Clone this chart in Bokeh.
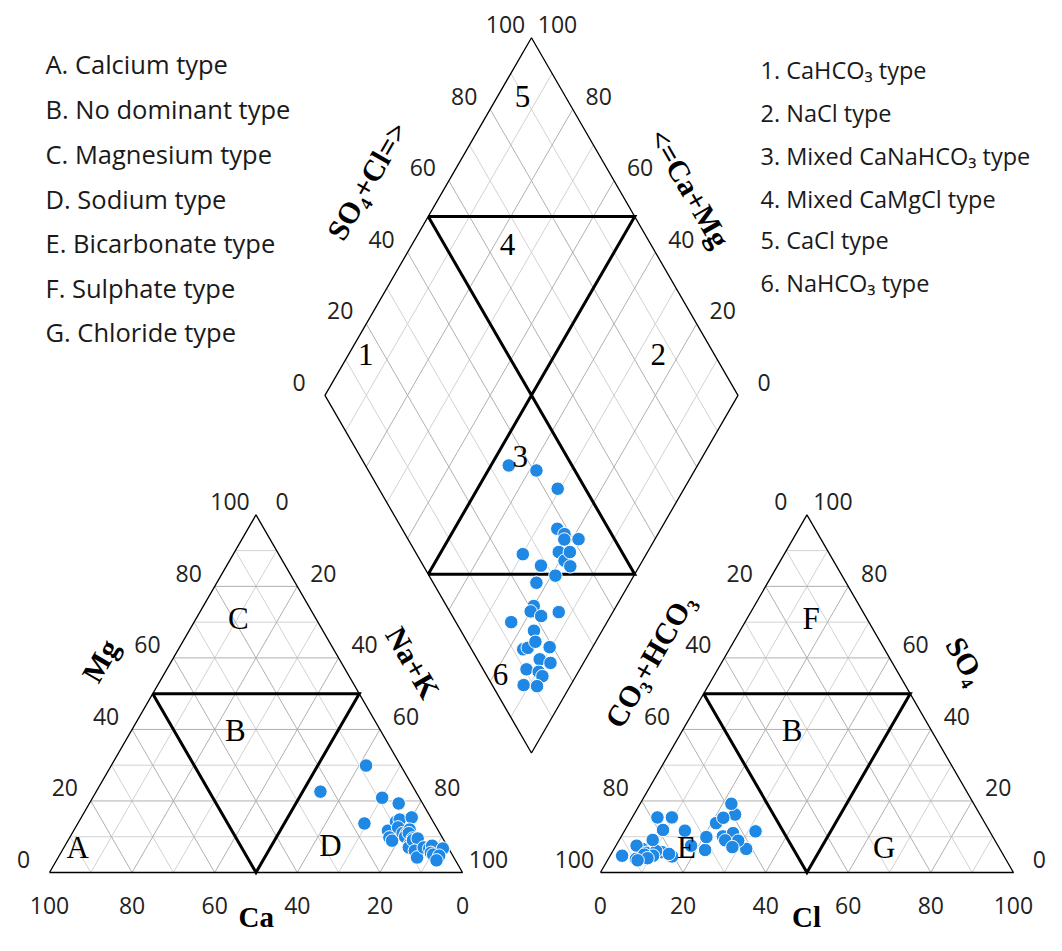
import numpy as np
from bokeh.plotting import figure
from bokeh.models import Range1d
from bokeh.embed import file_html
from bokeh.resources import INLINE
from bokeh.core.properties import value

# ---------------- data (meq %) ----------------
ca   = [23.1, 8.4, 16.9, 9.0, 5.8, 12.2, 9.0, 12.8, 7.8, 9.3, 12.6, 4.6, 9.0, 8.1, 8.9, 6.8,
        7.5, 7.3, 8.7, 9.5, 7.5, 6.1, 8.5, 8.9, 5.9, 4.7, 3.6, 4.9, 4.6, 1.4, 3.3, 4.6]
mg   = [22.6, 29.9, 13.7, 20.9, 19.3, 11.7, 14.2, 9.8, 14.8, 12.6, 8.9, 15.4, 11.0, 10.9, 10.0, 12.0,
        11.0, 9.5, 8.0, 7.0, 9.0, 9.5, 6.1, 4.2, 7.0, 6.7, 7.5, 5.5, 5.0, 6.7, 4.7, 3.4]
na_k = [54.3, 61.7, 69.4, 70.1, 74.9, 76.1, 76.8, 77.4, 77.4, 78.1, 78.5, 80.0, 80.0, 81.0, 81.1, 81.2,
        81.5, 83.2, 83.3, 83.5, 83.5, 84.4, 85.4, 86.9, 87.1, 88.6, 88.9, 89.6, 90.4, 91.9, 92.0, 92.0]
hco3 = [65.3, 59.3, 56.7, 74.3, 62.4, 71.5, 86.6, 61.4, 75.0, 62.2, 65.3, 78.9, 80.4, 69.4, 65.1, 62.6,
        58.7, 78.5, 64.5, 82.3, 87.5, 86.2, 83.5, 73.7, 89.5, 92.4, 84.9, 80.8, 86.9, 86.6, 82.8, 89.3]
so4  = [10.1, 16.2, 11.5, 7.5, 11.0, 6.3, 6.6, 6.6, 15.4, 8.9, 9.0, 11.9, 4.5, 9.9, 13.8, 15.3,
        19.2, 15.4, 7.1, 5.7, 7.5, 5.5, 6.0, 11.7, 3.8, 4.7, 4.7, 5.2, 5.0, 4.0, 9.1, 3.4]
cl   = [24.6, 24.5, 31.8, 18.2, 26.6, 22.2, 6.8, 32.0, 9.6, 28.9, 25.7, 9.2, 15.1, 20.7, 21.1, 22.1,
        22.1, 6.1, 28.4, 12.0, 5.0, 8.3, 10.5, 14.6, 6.7, 2.9, 10.4, 14.0, 8.1, 9.4, 8.1, 7.3]

tick_values = [0, 20, 40, 60, 80, 100]
legend_left = ["A. Calcium type", "B. No dominant type", "C. Magnesium type", "D. Sodium type",
               "E. Bicarbonate type", "F. Sulphate type", "G. Chloride type"]
legend_right = ["1. CaHCO\u2083 type", "2. NaCl type", "3. Mixed CaNaHCO\u2083 type",
                "4. Mixed CaMgCl type", "5. CaCl type", "6. NaHCO\u2083 type"]
cation_zone_names = ["A", "B", "C", "D"]
anion_zone_names = ["E", "B", "F", "G"]
diamond_zone_names = ["1", "2", "3", "4", "5", "6"]

# ---------------- geometry ----------------
S = 4.13                 # px per unit
OX, OY = 49.0, 872.0     # canvas px of cation triangle origin
W, H = 1046, 935
G = 33.4                 # gap between triangles
R3 = np.sqrt(3) / 2
AX0 = 100 + G
BX, BY = 100 + G / 2, G * R3

def u(px):
    return px / S

p = figure(width=W, height=H,
           x_range=Range1d((0 - OX) / S, (W - OX) / S),
           y_range=Range1d((OY - H) / S, OY / S),
           output_backend="svg", toolbar_location=None, min_border=0,
           x_axis_location=None, y_axis_location=None, outline_line_color=None)
p.grid.visible = False
p.background_fill_color = "white"

# ---------------- grid ----------------
dark_xs, dark_ys, light_xs, light_ys = [], [], [], []
def add(seg, t):
    (x0, y0), (x1, y1) = seg
    if t % 20 == 0:
        dark_xs.append([x0, x1]); dark_ys.append([y0, y1])
    else:
        light_xs.append([x0, x1]); light_ys.append([y0, y1])

for x0 in (0, AX0):
    for t in range(10, 100, 10):
        add(((x0 + 0.5 * t, R3 * t), (x0 + 100 - 0.5 * t, R3 * t)), t)
        add(((x0 + t, 0), (x0 + t + 0.5 * (100 - t), R3 * (100 - t))), t)
        add(((x0 + 100 - t, 0), (x0 + 0.5 * (100 - t), R3 * (100 - t))), t)
for t in range(10, 100, 10):
    sx, sy = BX + 0.5 * t, BY + R3 * t
    add(((sx, sy), (sx - 50, sy + 100 * R3)), t)
    sx, sy = BX - 0.5 * t, BY + R3 * t
    add(((sx, sy), (sx + 50, sy + 100 * R3)), t)

p.multi_line(light_xs, light_ys, line_color="#d2d2d2", line_width=1)
p.multi_line(dark_xs, dark_ys, line_color="#b0b0b0", line_width=1)

# outlines
Lx, Ly = BX - 50, BY + 100 * R3
Rx, Ry = BX + 50, BY + 100 * R3
Tx, Ty = BX, BY + 200 * R3
p.multi_line([[0, 100, 50, 0], [AX0, AX0 + 100, AX0 + 50, AX0], [BX, Rx, Tx, Lx, BX]],
             [[0, 0, 100 * R3, 0], [0, 0, 100 * R3, 0], [BY, Ry, Ty, Ly, BY]],
             line_color="black", line_width=1.3)

# thick classification lines
CX, CY = BX, BY + 100 * R3
thick_x = [[25, 75, 50, 25], [AX0 + 25, AX0 + 75, AX0 + 50, AX0 + 25],
           [(Lx + Tx) / 2, (Rx + Tx) / 2, CX, (Lx + Tx) / 2],
           [(Lx + BX) / 2, (Rx + BX) / 2, CX, (Lx + BX) / 2]]
thick_y = [[50 * R3, 50 * R3, 0, 50 * R3], [50 * R3, 50 * R3, 0, 50 * R3],
           [(Ly + Ty) / 2, (Ry + Ty) / 2, CY, (Ly + Ty) / 2],
           [(Ly + BY) / 2, (Ry + BY) / 2, CY, (Ly + BY) / 2]]
p.multi_line(thick_x, thick_y, line_color="black", line_width=3, line_join="miter")

# ---------------- points ----------------
na_a, mg_a, ca_a = np.array(na_k), np.array(mg), np.array(ca)
so4_a, cl_a = np.array(so4), np.array(cl)
cx = na_a + 0.5 * mg_a
cy = R3 * mg_a
ax = AX0 + cl_a + 0.5 * so4_a
ay = R3 * so4_a
s_ = so4_a + cl_a
c_ = ca_a + mg_a
dx = BX + 0.5 * s_ - 0.5 * c_
dy = BY + R3 * (s_ + c_)
blue = "#1f88e5"
for X, Y in ((cx, cy), (ax, ay), (dx, dy)):
    p.scatter(X, Y, size=13.5, marker="circle", fill_color=blue, line_color="white", line_width=1)

# ---------------- tick labels ----------------
tx, ty, tt = [], [], []
offx, offy = u(26), u(13)
for v in tick_values:
    tx.append(v); ty.append(-u(33)); tt.append(str(100 - v))                       # Ca
    tx.append(0.5 * v - offx); ty.append(R3 * v + offy); tt.append(str(v))          # Mg
    tx.append(50 + 0.5 * v + offx); ty.append(R3 * (100 - v) + offy); tt.append(str(v))  # Na+K
    tx.append(AX0 + v); ty.append(-u(33)); tt.append(str(v))                        # Cl
    tx.append(AX0 + 0.5 * v - offx); ty.append(R3 * v + offy); tt.append(str(100 - v))   # CO3+HCO3
    tx.append(AX0 + 100 - 0.5 * v + offx); ty.append(R3 * v + offy); tt.append(str(v))  # SO4
    tx.append(Lx + v / 100 * (Tx - Lx) - offx); ty.append(Ly + v / 100 * (Ty - Ly) + offy); tt.append(str(v))
    tx.append(Rx + v / 100 * (Tx - Rx) + offx); ty.append(Ry + v / 100 * (Ty - Ry) + offy); tt.append(str(v))
p.text(tx, ty, text=tt, text_font=value("Open Sans"), text_font_size="23px",
       text_align="center", text_baseline="middle", text_color="#222222")

# ---------------- axis titles ----------------
yb = u(OY - 932)   # bottom titles, bottom-aligned just inside the canvas
p.text([50.06, AX0 + 49.9], [yb, yb], text=["Ca", "Cl"], text_font=value("Liberation Serif"),
       text_font_size="29px", text_font_style="bold", text_align="center",
       text_baseline="bottom", text_color="black")
titles = [("Mg", 12.3, 51.3, np.pi / 3), ("Na+K", 88.0, 50.8, -np.pi / 3),
          ("CO\u2083+HCO\u2083", AX0 + 11.9, 51.3, np.pi / 3), ("SO\u2084", AX0 + 88.5, 51.3, -np.pi / 3),
          ("SO\u2084+Cl=>", 76.9, 167.5, np.pi / 3), ("<=Ca+Mg", 155.0, 165.7, -np.pi / 3)]
for txt, x, y, a in titles:
    p.text([x], [y], text=[txt], angle=a, text_font=value("Liberation Serif"), text_font_size="30px",
           text_font_style="bold", text_align="center", text_baseline="middle", text_color="black")

# ---------------- zone labels ----------------
zx = [6.8, 45.0, 45.7, 68.0] + [AX0 + 20.8, AX0 + 46.4, AX0 + 51.0, AX0 + 68.7] + \
     [BX - 40.1, BX + 30.7, BX - 2.7, BX - 5.8, BX - 2.2, BX - 7.5]
zy = [6.0, 34.3, 61.4, 6.5] + [6.0, 34.3, 61.4, 6.0] + \
     [BY + 96.5, BY + 96.5, BY + 71.8, BY + 123.1, BY + 158.9, BY + 19.1]
zt = cation_zone_names + anion_zone_names + diamond_zone_names
p.text(zx, zy, text=zt, text_font=value("Liberation Serif"), text_font_size="31px",
       text_align="center", text_baseline="middle", text_color="black")

# ---------------- legends ----------------
ly = [63, 108, 153, 198, 242, 287, 331]
p.text([u(45 - OX)] * len(legend_left), [(OY - v) / S for v in ly], text=legend_left,
       text_font=value("Open Sans"), text_font_size="25.5px", text_align="left",
       text_baseline="middle", text_color="#1a1a1a")
ry = [69, 112, 155, 198, 239, 282]
p.text([u(760 - OX)] * len(legend_right), [(OY - v) / S for v in ry], text=legend_right,
       text_font=value("Open Sans"), text_font_size="23.5px", text_align="left",
       text_baseline="middle", text_color="#1a1a1a")

open("out.html", "w").write(file_html(p, INLINE))
